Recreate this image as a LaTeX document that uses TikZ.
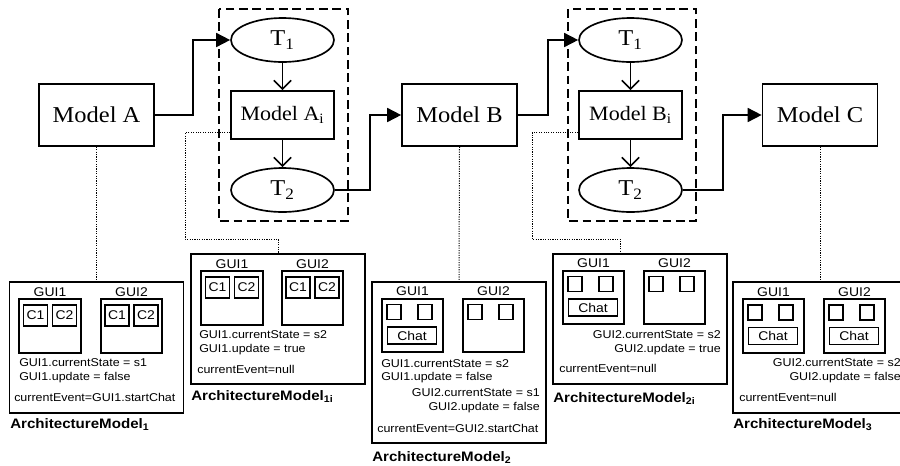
\documentclass[tikz,border=0pt]{standalone}
\usepackage{fontspec}
\usetikzlibrary{arrows.meta,shapes.geometric,calc}
\newfontfamily\timesx{Liberation Serif}[FakeStretch=1.08]
\newfontfamily\arialx{Liberation Sans}[FakeStretch=1.1]
\newcommand\modelfont{\timesx\fontsize{17}{20}\selectfont}
\newcommand\modelifont{\timesx\fontsize{15.3}{18}\selectfont}
\newcommand\guifont{\arialx\fontsize{9.5}{11}\selectfont}
\newcommand\infofont{\arialx\fontsize{8.5}{10}\selectfont}
\newcommand\titlefont{\arialx\bfseries\fontsize{10.3}{12}\selectfont}
\begin{document}
\begin{tikzpicture}[x=0.75pt,y=-0.75pt,
 model/.style={draw, line width=1.25pt, font=\modelfont, inner sep=0pt, minimum width=86.25pt, minimum height=46.5pt},
 modeli/.style={draw, line width=1.25pt, font=\modelifont, inner sep=0pt, minimum width=77.25pt, minimum height=36pt},
 trans/.style={draw, ellipse, line width=1.25pt, font=\modelfont, inner sep=0pt, minimum width=77.25pt, minimum height=33pt},
 dashbox/.style={draw, line width=1.2pt, dash pattern=on 6.5pt off 3.5pt},
 conn/.style={line width=1.25pt, -{Triangle[length=10.5pt,width=10.5pt]}},
 vconn/.style={line width=1.2pt, -{Straight Barb[length=6.5pt,width=13pt]}},
 dots/.style={line width=0.75pt, dash pattern=on 0.8pt off 1pt},
 arch/.style={draw, line width=1.3pt, inner sep=0pt, minimum width=130.5pt},
 gui/.style={draw, line width=1.6pt, minimum width=46.2pt, minimum height=40pt, inner sep=0pt},
 comp/.style={draw, line width=1.1pt, minimum width=18pt, minimum height=15.5pt, inner sep=0pt, font=\guifont},
 sq/.style={draw, line width=1.1pt, minimum width=10.5pt, minimum height=11.5pt, inner sep=0pt},
 chat/.style={draw, line width=1.1pt, minimum width=37pt, minimum height=12.75pt, inner sep=0pt, font=\guifont},
 guilabel/.style={font=\guifont, inner sep=0pt, anchor=south},
 info/.style={font=\infofont, inner sep=0pt},
 titletext/.style={font=\titlefont, inner sep=0pt, anchor=base west}]
\useasboundingbox (0,0) rectangle (900,465);

% dashed groups
\draw[dashbox] (219,9) rectangle (348,221);
\draw[dashbox] (568,9) rectangle (696,221);

% models
\node[model] (ma) at (96.5,115) {Model A};
\node[model] (mb) at (459.5,115) {Model B};
\node[model] (mc) at (820,115) {Model C};
\node[modeli] (mai) at (282.5,115) {Model A\textsubscript{i}};
\node[modeli] (mbi) at (630.5,115) {Model B\textsubscript{i}};
\node[trans] (t1a) at (282.5,40) {T\textsubscript{1}};
\node[trans] (t2a) at (282.5,190) {T\textsubscript{2}};
\node[trans] (t1b) at (630.5,40) {T\textsubscript{1}};
\node[trans] (t2b) at (630.5,190) {T\textsubscript{2}};

% connectors
\draw[conn] (ma.east) -- ++(38,0) |- (t1a.west);
\draw[conn] (t2a.east) -- ++(35,0) |- (mb.west);
\draw[conn] (mb.east) -- ++(30,0) |- (t1b.west);
\draw[conn] (t2b.east) -- ++(40,0) |- (mc.west);
\draw[vconn] (t1a) -- (mai);
\draw[vconn] (mai) -- (t2a);
\draw[vconn] (t1b) -- (mbi);
\draw[vconn] (mbi) -- (t2b);

% architecture boxes
\node[arch, minimum height=98.25pt] (am1) at (96.5,347.5) {};
\node[arch, minimum height=97.5pt] (am1i) at (278,319) {};
\node[arch, minimum height=120.75pt] (am2) at (459,362.5) {};
\node[arch, minimum height=97.5pt] (am2i) at (640,319) {};
\node[arch, minimum height=98.25pt] (am3) at (820,347.5) {};

% dotted links
\draw[dots] (ma.south) -- (am1.north);
\draw[dots] (mb.south) -- (am2.north);
\draw[dots] (mc.south) -- (am3.north);
\draw[dots] ($(mai.south west)+(0,-7)$) -| (185,239) -| (am1i.north);
\coordinate (bend2) at (620,239);
\draw[dots] ($(mbi.south west)+(0,-7)$) -| (532,239) -- (bend2) -- (bend2 |- am2i.north);

% GUI boxes
\foreach \n/\x/\y/\t in {g1a/50/326/GUI1, g1b/131.5/326/GUI2, g1ia/232/298/GUI1, g1ib/312.5/298/GUI2,
  g2a/412.5/325.5/GUI1, g2b/493.5/325.5/GUI2, g2ia/593.5/297.5/GUI1, g2ib/674.5/297.5/GUI2,
  g3a/773.5/326/GUI1, g3b/854.5/326/GUI2}{
  \node[gui] (\n) at (\x,\y) {};
  \node[guilabel] (\n-l) at ([yshift=1.2pt]\n.north) {\t};
}
% components C1 / C2
\foreach \n in {g1a,g1b,g1ia,g1ib}{
  \node[comp] (\n-c1) at ($(\n.center)+(-14.5,-10.5)$) {C1};
  \node[comp] (\n-c2) at ($(\n.center)+(14.5,-10.5)$) {C2};
}
% empty squares
\foreach \n in {g2a,g2b,g2ia,g2ib,g3a,g3b}{
  \node[sq] (\n-s1) at ($(\n.center)+(-18.5,-13.5)$) {};
  \node[sq] (\n-s2) at ($(\n.center)+(12.5,-13.5)$) {};
}
% chat boxes
\foreach \n in {g2a,g2ia,g3a,g3b}{
  \node[chat] (\n-ch) at ($(\n.center)+(-0.5,10)$) {Chat};
}

% texts AM1
\node[info, anchor=base west] (a1t1) at (19,366.5) {GUI1.currentState = s1};
\node[info, anchor=base west] (a1t2) at (19,380.5) {GUI1.update = false};
\node[info, anchor=base west] (a1t3) at (14,401.5) {currentEvent=GUI1.startChat};
\node[titletext] (a1n) at (10,428) {ArchitectureModel\textsubscript{1}};
% AM1i
\node[info, anchor=base west] (a1it1) at (199,338.5) {GUI1.currentState = s2};
\node[info, anchor=base west] (a1it2) at (199,352.5) {GUI1.update = true};
\node[info, anchor=base west] (a1it3) at (197,373.5) {currentEvent=null};
\node[titletext] (a1in) at (191,400) {ArchitectureModel\textsubscript{1i}};
% AM2
\node[info, anchor=base west] (a2t1) at (381,367.5) {GUI1.currentState = s2};
\node[info, anchor=base west] (a2t2) at (381,380.5) {GUI1.update = false};
\node[info, anchor=base east] (a2t3) at (540,396.5) {GUI2.currentState = s1};
\node[info, anchor=base east] (a2t4) at (540,410.5) {GUI2.update = false};
\node[info, anchor=base west] (a2t5) at (377,432.5) {currentEvent=GUI2.startChat};
\node[titletext] (a2n) at (372,461) {ArchitectureModel\textsubscript{2}};
% AM2i
\node[info, anchor=base east] (a2it1) at (721,338.5) {GUI2.currentState = s2};
\node[info, anchor=base east] (a2it2) at (721,352.5) {GUI2.update = true};
\node[info, anchor=base west] (a2it3) at (559,372.5) {currentEvent=null};
\node[titletext] (a2in) at (553,402) {ArchitectureModel\textsubscript{2i}};
% AM3
\node[info, anchor=base east] (a3t1) at (901,366.5) {GUI2.currentState = s2};
\node[info, anchor=base east] (a3t2) at (901,380.5) {GUI2.update = false};
\node[info, anchor=base west] (a3t3) at (739,401.5) {currentEvent=null};
\node[titletext] (a3n) at (733,428) {ArchitectureModel\textsubscript{3}};
\end{tikzpicture}
\end{document}
